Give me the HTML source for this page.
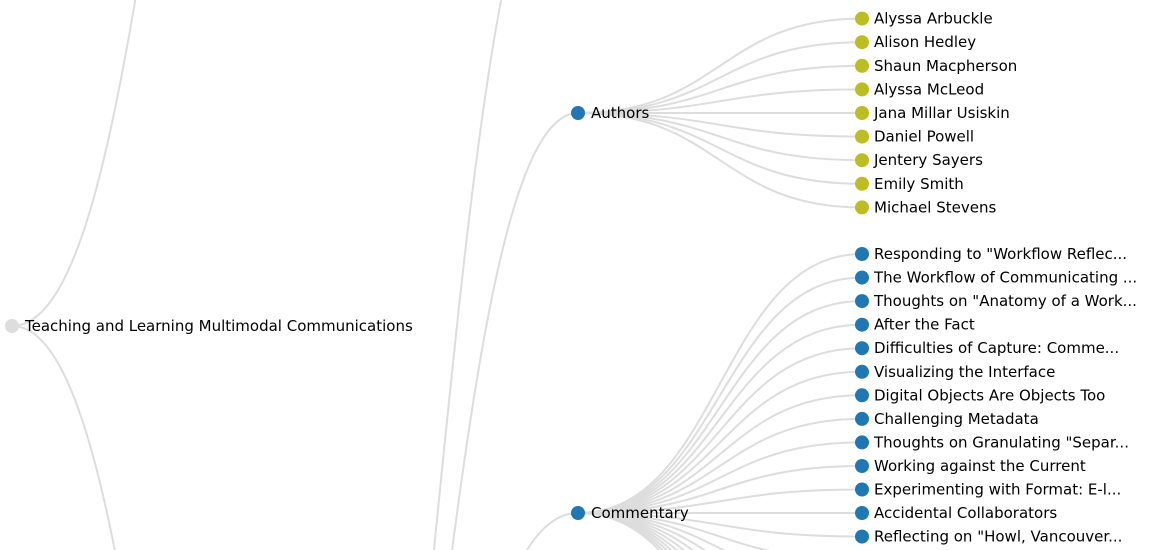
<!DOCTYPE html>
<html><head><meta charset="utf-8"><style>
html,body{margin:0;padding:0;background:#fff;width:1150px;height:550px;overflow:hidden}
svg{display:block;overflow:hidden}
path{fill:none;stroke:#ddd;stroke-width:2}
text{font-family:"DejaVu Sans","Liberation Sans",sans-serif;font-size:15px;fill:#000}
</style></head><body>
<svg width="1150" height="550" viewBox="0 0 1150 550">
<path d="M12,326C153.5,326 153.5,-546 295,-546"/>
<path d="M12,326C153.5,326 153.5,1229 295,1229"/>
<path d="M295,1229C436.5,1229 436.5,-180 578,-180"/>
<path d="M295,1229C436.5,1229 436.5,113 578,113"/>
<path d="M295,1229C436.5,1229 436.5,513 578,513"/>
<g>
<path d="M578,113C720,113 720,18.6 862,18.6"/>
<path d="M578,113C720,113 720,42.2 862,42.2"/>
<path d="M578,113C720,113 720,65.8 862,65.8"/>
<path d="M578,113C720,113 720,89.4 862,89.4"/>
<path d="M578,113C720,113 720,113 862,113"/>
<path d="M578,113C720,113 720,136.6 862,136.6"/>
<path d="M578,113C720,113 720,160.2 862,160.2"/>
<path d="M578,113C720,113 720,183.8 862,183.8"/>
<path d="M578,113C720,113 720,207.4 862,207.4"/>
</g>
<g>
<path d="M578,513C720,513 720,254 862,254"/>
<path d="M578,513C720,513 720,277.6 862,277.6"/>
<path d="M578,513C720,513 720,301.1 862,301.1"/>
<path d="M578,513C720,513 720,324.7 862,324.7"/>
<path d="M578,513C720,513 720,348.2 862,348.2"/>
<path d="M578,513C720,513 720,371.8 862,371.8"/>
<path d="M578,513C720,513 720,395.3 862,395.3"/>
<path d="M578,513C720,513 720,418.9 862,418.9"/>
<path d="M578,513C720,513 720,442.4 862,442.4"/>
<path d="M578,513C720,513 720,466 862,466"/>
<path d="M578,513C720,513 720,489.5 862,489.5"/>
<path d="M578,513C720,513 720,513 862,513"/>
<path d="M578,513C720,513 720,536.6 862,536.6"/>
<path d="M578,513C720,513 720,560.1 862,560.1"/>
<path d="M578,513C720,513 720,583.7 862,583.7"/>
<path d="M578,513C720,513 720,607.2 862,607.2"/>
<path d="M578,513C720,513 720,630.8 862,630.8"/>
<path d="M578,513C720,513 720,654.3 862,654.3"/>
<path d="M578,513C720,513 720,677.9 862,677.9"/>
<path d="M578,513C720,513 720,701.4 862,701.4"/>
<path d="M578,513C720,513 720,725 862,725"/>
<path d="M578,513C720,513 720,748.5 862,748.5"/>
<path d="M578,513C720,513 720,772.1 862,772.1"/>
</g>

<circle cx="12" cy="326" r="7" fill="#ddd"/>
<text x="25" y="331">Teaching and Learning Multimodal Communications</text>

<circle cx="578" cy="113" r="7" fill="#1f77b4"/>
<text x="591" y="118">Authors</text>
<circle cx="578" cy="513" r="7" fill="#1f77b4"/>
<text x="591" y="518">Commentary</text>

<g fill="#bcbd22">
<circle cx="862" cy="18.6" r="7"/><circle cx="862" cy="42.2" r="7"/><circle cx="862" cy="65.8" r="7"/>
<circle cx="862" cy="89.4" r="7"/><circle cx="862" cy="113" r="7"/><circle cx="862" cy="136.6" r="7"/>
<circle cx="862" cy="160.2" r="7"/><circle cx="862" cy="183.8" r="7"/><circle cx="862" cy="207.4" r="7"/>
</g>
<text x="874" y="23.6">Alyssa Arbuckle</text>
<text x="874" y="47.2">Alison Hedley</text>
<text x="874" y="70.8">Shaun Macpherson</text>
<text x="874" y="94.4">Alyssa McLeod</text>
<text x="874" y="118">Jana Millar Usiskin</text>
<text x="874" y="141.6">Daniel Powell</text>
<text x="874" y="165.2">Jentery Sayers</text>
<text x="874" y="188.8">Emily Smith</text>
<text x="874" y="212.4">Michael Stevens</text>

<g fill="#1f77b4">
<circle cx="862" cy="254" r="7"/><circle cx="862" cy="277.6" r="7"/><circle cx="862" cy="301.1" r="7"/>
<circle cx="862" cy="324.7" r="7"/><circle cx="862" cy="348.2" r="7"/><circle cx="862" cy="371.8" r="7"/>
<circle cx="862" cy="395.3" r="7"/><circle cx="862" cy="418.9" r="7"/><circle cx="862" cy="442.4" r="7"/>
<circle cx="862" cy="466" r="7"/><circle cx="862" cy="489.5" r="7"/><circle cx="862" cy="513" r="7"/>
<circle cx="862" cy="536.6" r="7"/>
</g>
<text x="874" y="259">Responding to "Workflow Reflec...</text>
<text x="874" y="282.6">The Workflow of Communicating ...</text>
<text x="874" y="306.1">Thoughts on "Anatomy of a Work...</text>
<text x="874" y="329.7">After the Fact</text>
<text x="874" y="353.2">Difficulties of Capture: Comme...</text>
<text x="874" y="376.8">Visualizing the Interface</text>
<text x="874" y="400.3">Digital Objects Are Objects Too</text>
<text x="874" y="423.9">Challenging Metadata</text>
<text x="874" y="447.4">Thoughts on Granulating "Separ...</text>
<text x="874" y="471">Working against the Current</text>
<text x="874" y="494.5">Experimenting with Format: E-l...</text>
<text x="874" y="518">Accidental Collaborators</text>
<text x="874" y="541.6">Reflecting on "Howl, Vancouver...</text>
</svg>
</body></html>
